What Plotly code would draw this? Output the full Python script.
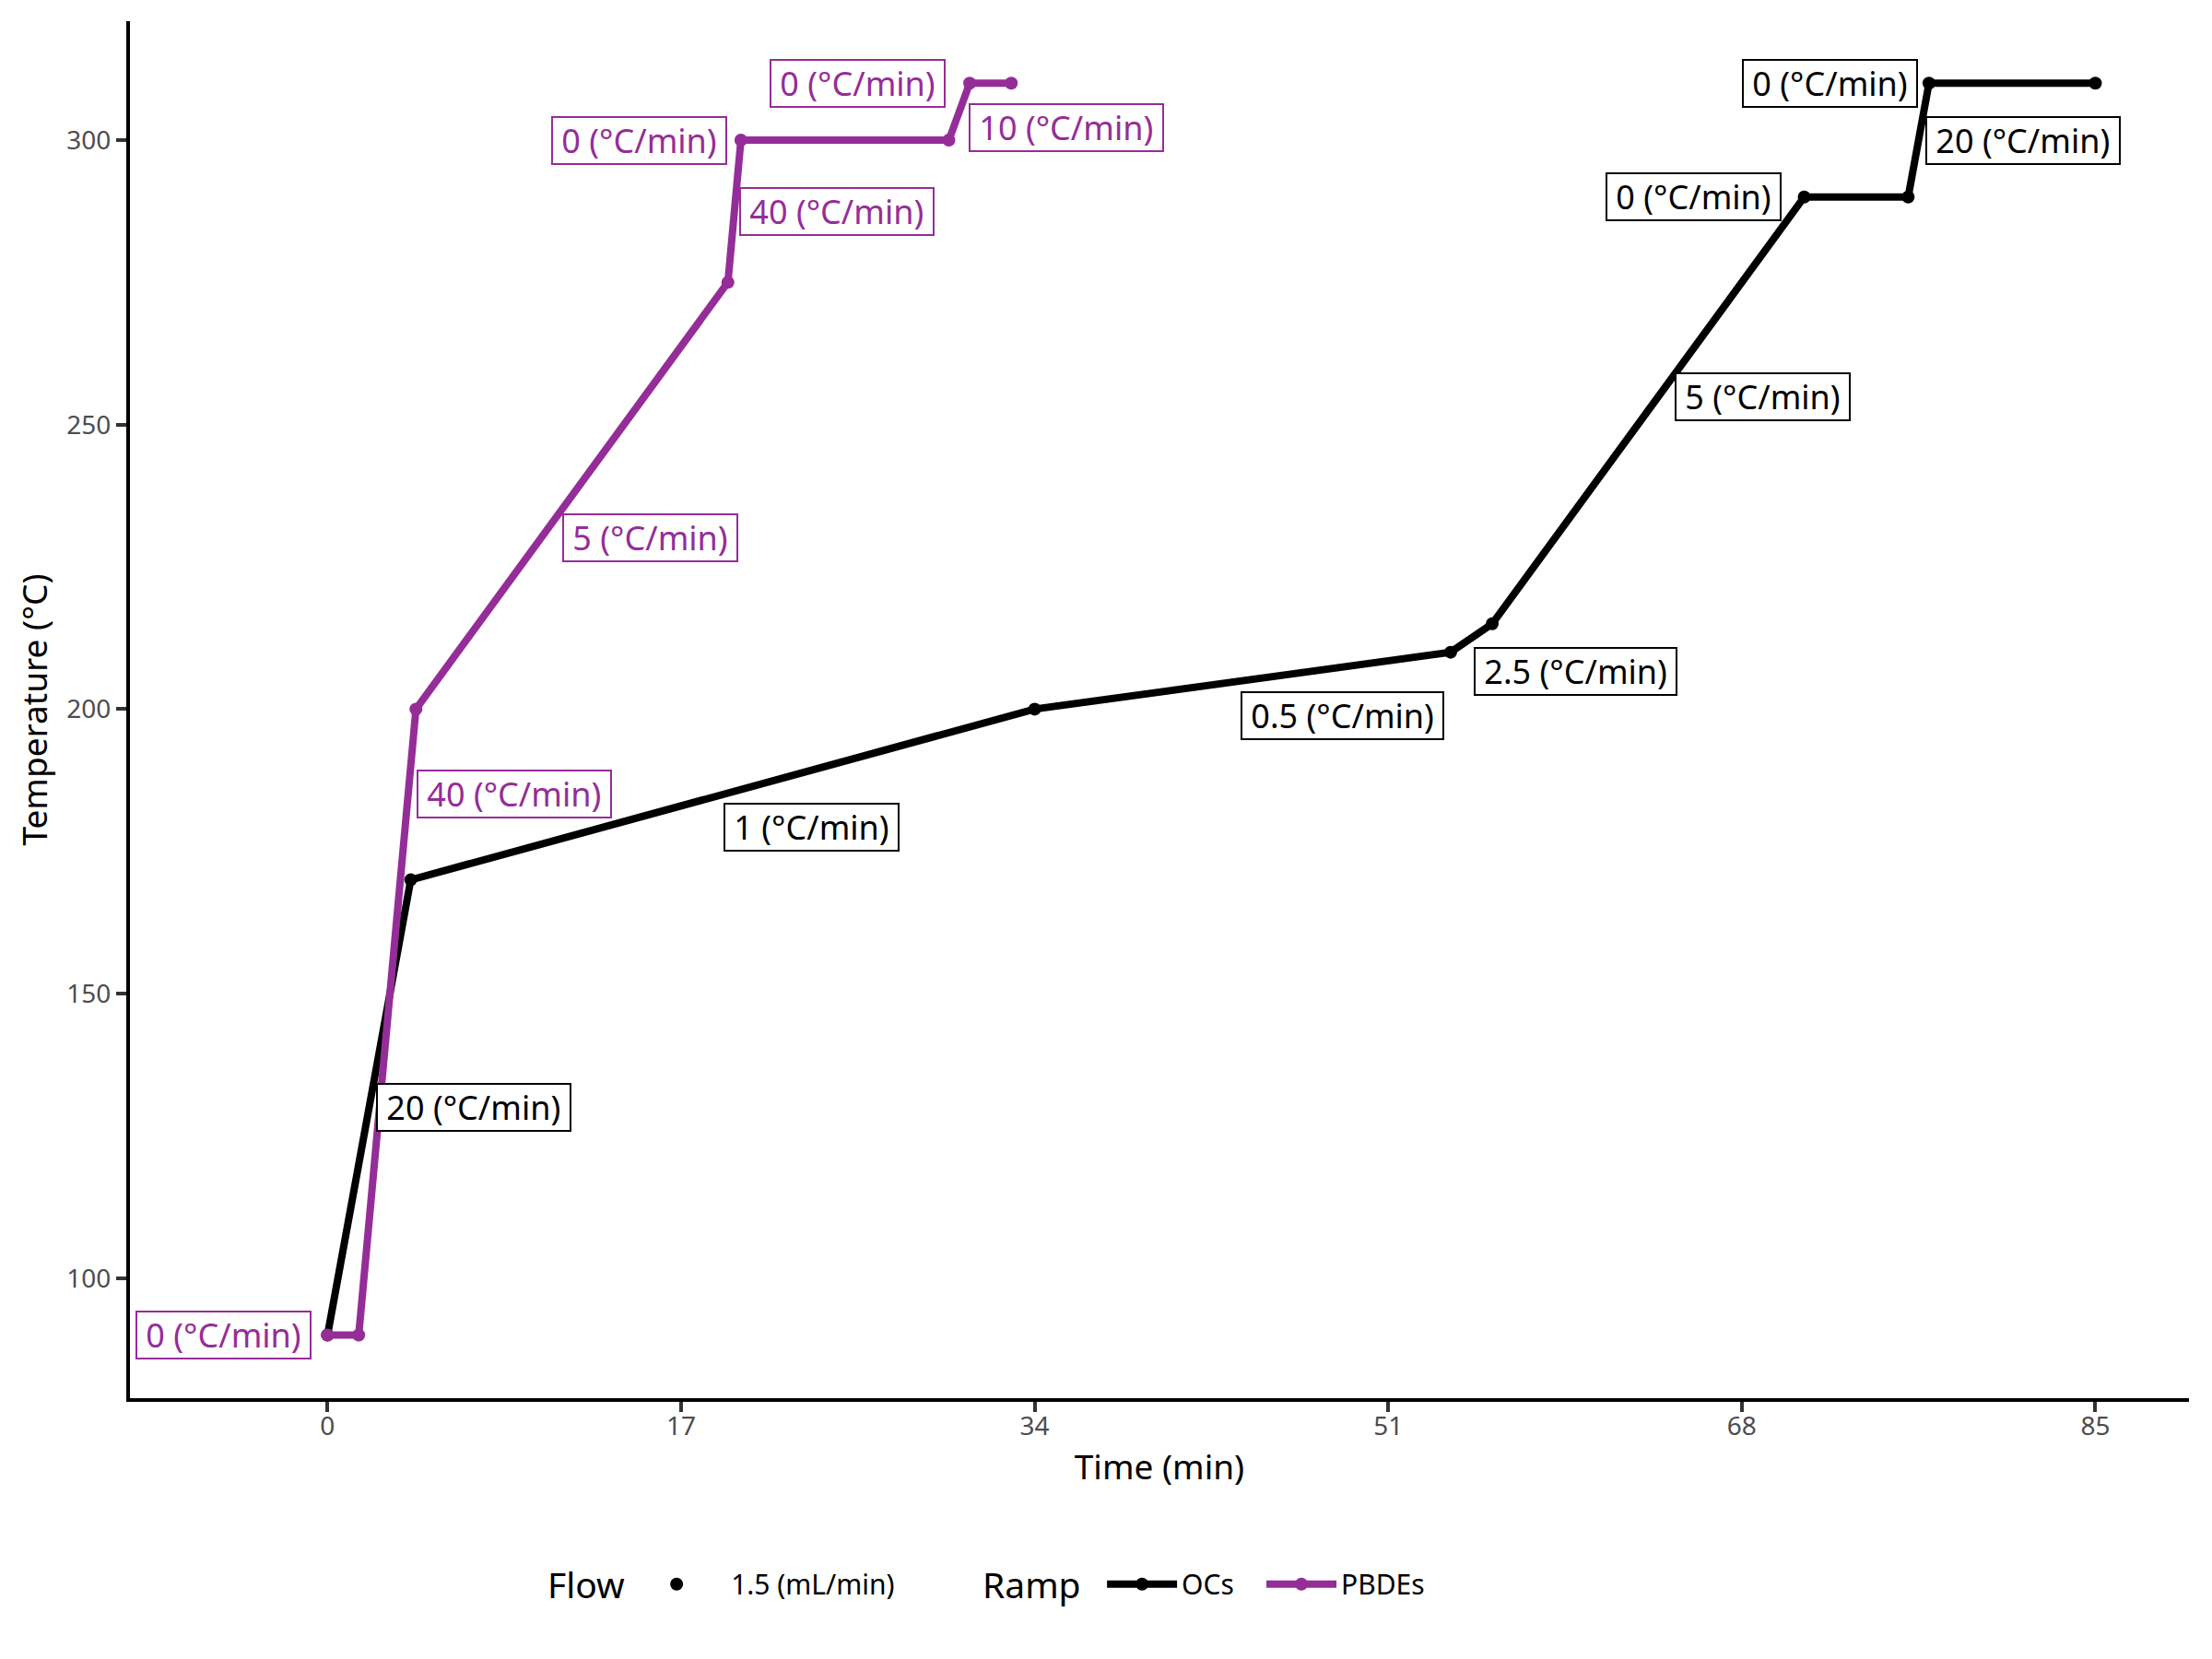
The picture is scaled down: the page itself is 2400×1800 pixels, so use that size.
import plotly.graph_objects as go

# ---------------- data ----------------
ocs_time = [0, 4, 34, 54, 56, 71, 76, 77, 85]
ocs_temp = [90, 170, 200, 210, 215, 290, 290, 310, 310]
ocs_rate = [20, 1, 0.5, 2.5, 5, 0, 20, 0]

pbde_time = [0, 1.5, 4.25, 19.25, 19.875, 29.875, 30.875, 32.875]
pbde_temp = [90, 90, 200, 275, 300, 300, 310, 310]
pbde_rate = [0, 40, 5, 40, 0, 10, 0]

x_ticks = [0, 17, 34, 51, 68, 85]
y_ticks = [100, 150, 200, 250, 300]

flow_label = "1.5 (mL/min)"
series_names = ["OCs", "PBDEs"]

# ---------------- style ----------------
FONT = "Noto Sans"
BLACK = "#000000"
PURPLE = "#952D98"
LW = 8
MS = 14

# label pixel offsets from segment midpoints (layout only)
ocs_shift = [(113, 0), (96, -36), (108, -38), (113, -36), (124, 15), (-176, 0), (113, 0), (-198, 0)]
pbde_shift = [(-130, 0), (138, 247), (85, -46), (111, 0), (-223, 0), (116, -17), (-144, 0)]

fig = go.Figure()

for name, t, T, col, lg in [(series_names[0], ocs_time, ocs_temp, BLACK, "legend2"),
                            (series_names[1], pbde_time, pbde_temp, PURPLE, "legend3")]:
    fig.add_trace(go.Scatter(
        x=t, y=T, mode="lines+markers", name=name,
        line=dict(color=col, width=LW),
        marker=dict(color=col, size=MS),
        legend=lg,
    ))

# flow legend dummy
fig.add_trace(go.Scatter(
    x=[None], y=[None], mode="markers", name=flow_label,
    marker=dict(color=BLACK, size=14), legend="legend",
))

NB = "\u00a0"
annotations = []
for t, T, rates, shifts, col in [(ocs_time, ocs_temp, ocs_rate, ocs_shift, BLACK),
                                 (pbde_time, pbde_temp, pbde_rate, pbde_shift, PURPLE)]:
    for i, r in enumerate(rates):
        mx = (t[i] + t[i + 1]) / 2
        my = (T[i] + T[i + 1]) / 2
        dx, dy = shifts[i]
        annotations.append(dict(
            x=mx, y=my, xref="x", yref="y", showarrow=False,
            xshift=dx, yshift=dy,
            text=f"{NB}{r:g} (°C/min){NB}",
            font=dict(family=FONT, size=36, color=col),
            bgcolor="white", bordercolor=col, borderwidth=2, borderpad=0,
        ))

# legend titles
for txt, xp in [("Flow", 0.2019), ("Ramp", 0.4132)]:
    annotations.append(dict(
        x=xp, y=-0.1352, xref="paper", yref="paper", xanchor="left", yanchor="middle",
        showarrow=False, text=txt, font=dict(family=FONT, size=39, color="black"),
    ))

leg_common = dict(orientation="h", y=-0.135, xanchor="left", yanchor="middle",
                  font=dict(family=FONT, size=30, color="black"), bgcolor="rgba(0,0,0,0)")

fig.update_layout(
    width=2400, height=1800,
    paper_bgcolor="white", plot_bgcolor="white",
    margin=dict(l=141, r=25, t=23, b=283),
    font=dict(family=FONT, color="black"),
    annotations=annotations,
    xaxis=dict(
        range=[-9.5, 89.5], tickvals=x_ticks, ticktext=[str(v) for v in x_ticks],
        showgrid=False, zeroline=False, showline=True, linecolor="black", linewidth=4,
        ticks="outside", ticklen=11, tickwidth=4, tickcolor="#333333",
        ticklabelstandoff=-9,
        tickfont=dict(family=FONT, size=28, color="#4d4d4d"),
        title=dict(text="Time (min)", font=dict(family=FONT, size=37, color="black"), standoff=17),
    ),
    yaxis=dict(
        range=[78.9, 320.9], tickvals=y_ticks, ticktext=[str(v) for v in y_ticks],
        showgrid=False, zeroline=False, showline=True, linecolor="black", linewidth=4,
        ticks="outside", ticklen=11, tickwidth=4, tickcolor="#333333",
        tickfont=dict(family=FONT, size=28, color="#4d4d4d"),
        title=dict(text="Temperature (°C)", font=dict(family=FONT, size=37, color="black"), standoff=10),
    ),
    legend=dict(x=0.2391, itemwidth=108, **leg_common),
    legend2=dict(x=0.4723, itemwidth=76, **leg_common),
    legend3=dict(x=0.5497, itemwidth=76, **leg_common),
    showlegend=True,
)

fig.write_html("out.html")
